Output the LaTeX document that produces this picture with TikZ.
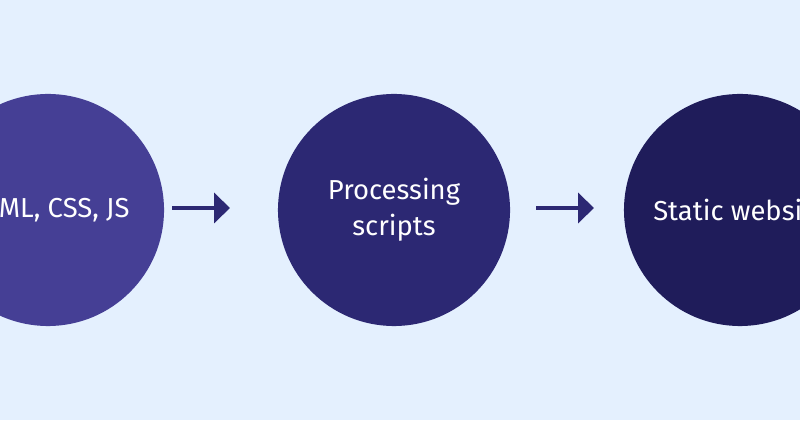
\documentclass[tikz,border=0pt]{standalone}
\usepackage{fontspec}
\setmainfont{Fira Sans}
\usetikzlibrary{arrows.meta}
\definecolor{bgblue}{HTML}{E4F0FE}
\definecolor{stepone}{HTML}{453F95}
\definecolor{steptwo}{HTML}{2C2873}
\definecolor{stepthree}{HTML}{1F1C5A}
\begin{document}
\begin{tikzpicture}[x=0.025cm, y=0.025cm, main node/.style={circle,minimum size=5.8cm,inner sep=0pt,text=white,align=center,font=\fontsize{19.5}{25.5}\selectfont}, flow/.style={-{Triangle[length=0.4cm,width=0.75cm]},line width=2.8pt,draw=steptwo}]
\fill [bgblue] (0,0) rectangle (800,420);
\clip (0,0) rectangle (800,420);
\node [main node,fill=stepone](src) at (48,210) {HTML, CSS, JS};
\node [main node,fill=steptwo](proc) at (394,210) {Processing\\scripts};
\node [main node,fill=stepthree](site) at (740,210) {Static website};
\coordinate (a1) at (172,212);
\coordinate (b1) at (230,212);
\coordinate (a2) at (536,212);
\coordinate (b2) at (594,212);
\path
	(a1) edge [flow] (b1)
	(a2) edge [flow] (b2)
	;
\end{tikzpicture}
\end{document}
